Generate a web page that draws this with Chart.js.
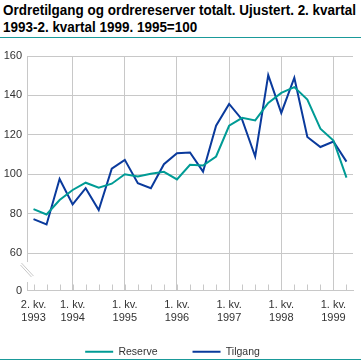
<!DOCTYPE html>
<html>
<head>
<meta charset="utf-8">
<script src="https://cdn.jsdelivr.net/npm/chart.js@4.4.1/dist/chart.umd.min.js"></script>
<style>
  body { margin: 0; width: 361px; height: 361px; background: #fff; position: relative; overflow: hidden; }
  #title { position: absolute; left: 3px; top: 2px; font: bold 14px "Liberation Sans", Arial, sans-serif; line-height: 17px; color: #000; white-space: nowrap; transform-origin: 0 0; }
  .rule { position: absolute; left: 0; width: 361px; height: 1px; background: #1a9a9a; z-index: 2; }
  #chart { position: absolute; left: 0; top: 42px; }
</style>
</head>
<body>
<div id="title"><span id="t1">Ordretilgang og ordrereserver totalt. Ujustert. 2. kvartal</span><br>1993-2. kvartal 1999. 1995=100</div>
<div class="rule" style="top:37px"></div>
<canvas id="chart" width="361" height="351"></canvas>
<div class="rule" style="top:359px"></div>
<script>
'use strict';

// squeeze the title to the width it has in the original
let titleLine = document.getElementById('t1');
let titleScale = 353 / titleLine.getBoundingClientRect().width;
document.getElementById('title').style.transform = 'scaleX(' + titleScale + ')';

// Quarters 2. kv. 1993 - 2. kv. 1999
let quarters = [
  '1993K2', '1993K3', '1993K4',
  '1994K1', '1994K2', '1994K3', '1994K4',
  '1995K1', '1995K2', '1995K3', '1995K4',
  '1996K1', '1996K2', '1996K3', '1996K4',
  '1997K1', '1997K2', '1997K3', '1997K4',
  '1998K1', '1998K2', '1998K3', '1998K4',
  '1999K1', '1999K2'
];

// x tick labels (two lines), keyed by quarter
let xTickLabels = {
  '1993K2': ['2. kv.', '1993'],
  '1994K1': ['1. kv.', '1994'],
  '1995K1': ['1. kv.', '1995'],
  '1996K1': ['1. kv.', '1996'],
  '1997K1': ['1. kv.', '1997'],
  '1998K1': ['1. kv.', '1998'],
  '1999K1': ['1. kv.', '1999']
};

let reserve = [
  82.3, 79.6, 86.9, 92.0, 95.7, 93.2, 95.2,
  100.0, 98.8, 100.2, 101.2, 97.4,
  104.8, 104.4, 109.0, 124.6,
  128.6, 127.3, 136.2, 141.3,
  144.2, 137.9, 123.1, 117.1, 98.3
];

let tilgang = [
  77.2, 74.5, 97.6, 84.7, 92.9, 81.8, 102.8,
  107.3, 95.4, 92.9, 105.1, 110.7,
  111.0, 101.3, 124.6, 135.7,
  127.7, 109.0, 150.3, 131.1,
  149.0, 118.9, 113.8, 116.6, 106.4
];

// y ticks; the axis is broken between 0 and 60
let yTicks = [0, 60, 80, 100, 120, 140, 160];
let breakBase = 41; // where the "0" tick sits on the broken axis

let gridColor = '#c8c8c8';
let textColor = '#333';

// The legend padding also spaces the items apart, so pull the box up a bit
let legendPlugin = {
  id: 'legendPlugin',
  afterLayout(chart) {
    let legend = chart.legend;
    legend.top -= 23;
    legend.bottom -= 23;
    legend.left -= 4;
    legend.right -= 4;
  }
};

// Draws the broken y axis line, the break marks and small x ticks
let axisPlugin = {
  id: 'axisPlugin',
  afterDraw(chart) {
    let ctx = chart.ctx;
    let area = chart.chartArea;
    let y = chart.scales.y;
    let x = chart.scales.x;
    let y60 = y.getPixelForValue(60);
    let left = Math.round(area.left) + 0.5;

    ctx.save();
    ctx.strokeStyle = gridColor;
    ctx.lineWidth = 1;
    ctx.beginPath();
    ctx.moveTo(left, area.top);
    ctx.lineTo(left, y60 + 9);
    ctx.moveTo(left, y60 + 29);
    ctx.lineTo(left, area.bottom);
    ctx.stroke();

    // break marks
    ctx.beginPath();
    ctx.moveTo(left - 7, y60 + 12);
    ctx.lineTo(left + 4, y60 + 24);
    ctx.moveTo(left - 6, y60 + 10);
    ctx.lineTo(left + 6, y60 + 23);
    ctx.stroke();

    // small ticks at each quarter
    ctx.beginPath();
    for (let i = 0; i < quarters.length; i++) {
      let px = Math.round(x.getPixelForValue(i)) + 0.5;
      ctx.moveTo(px, area.bottom);
      ctx.lineTo(px, area.bottom - 6);
    }
    ctx.stroke();
    ctx.restore();
  }
};

let ctx = document.getElementById('chart').getContext('2d');

new Chart(ctx, {
  type: 'line',
  data: {
    labels: quarters,
    datasets: [
      {
        label: 'Reserve',
        data: reserve,
        borderColor: '#009b95',
        backgroundColor: '#009b95',
        borderWidth: 2,
        pointRadius: 0,
        tension: 0
      },
      {
        label: 'Tilgang',
        data: tilgang,
        borderColor: '#0a3a9c',
        backgroundColor: '#0a3a9c',
        borderWidth: 2,
        pointRadius: 0,
        tension: 0
      }
    ]
  },
  options: {
    responsive: false,
    animation: false,
    layout: {
      padding: { top: 14, right: 8, left: 0, bottom: 3 }
    },
    scales: {
      x: {
        offset: true,
        grid: {
          offset: false,
          drawTicks: false,
          color: function (c) {
            let label = quarters[c.index];
            return (label && label.endsWith('K1')) ? gridColor : 'transparent';
          }
        },
        border: { display: true, color: gridColor },
        ticks: {
          autoSkip: false,
          maxRotation: 0,
          padding: 8,
          color: textColor,
          font: { family: 'Liberation Sans', size: 11 },
          callback: function (value, index) {
            return xTickLabels[quarters[index]] || '';
          }
        },
        afterFit: function (scale) {
          scale.height = 44;
        }
      },
      y: {
        min: breakBase,
        max: 160,
        afterBuildTicks: function (scale) {
          scale.ticks = yTicks.map(function (v) {
            return { value: v === 0 ? breakBase : v };
          });
        },
        grid: {
          drawTicks: false,
          color: function (c) {
            return c.tick && c.tick.value === breakBase ? 'transparent' : gridColor;
          }
        },
        border: { display: false },
        ticks: {
          padding: 5,
          color: textColor,
          font: { family: 'Liberation Sans', size: 11 },
          callback: function (value) {
            return value === breakBase ? '0' : String(value);
          }
        },
        afterFit: function (scale) {
          scale.width = 27;
        }
      }
    },
    plugins: {
      legend: {
        position: 'bottom',
        labels: {
          usePointStyle: true,
          pointStyle: 'line',
          pointStyleWidth: 28,
          boxHeight: 2,
          padding: 35,
          color: textColor,
          font: { family: 'Liberation Sans', size: 10.5 }
        }
      },
      tooltip: { enabled: false }
    }
  },
  plugins: [axisPlugin, legendPlugin]
});
</script>
</body>
</html>
